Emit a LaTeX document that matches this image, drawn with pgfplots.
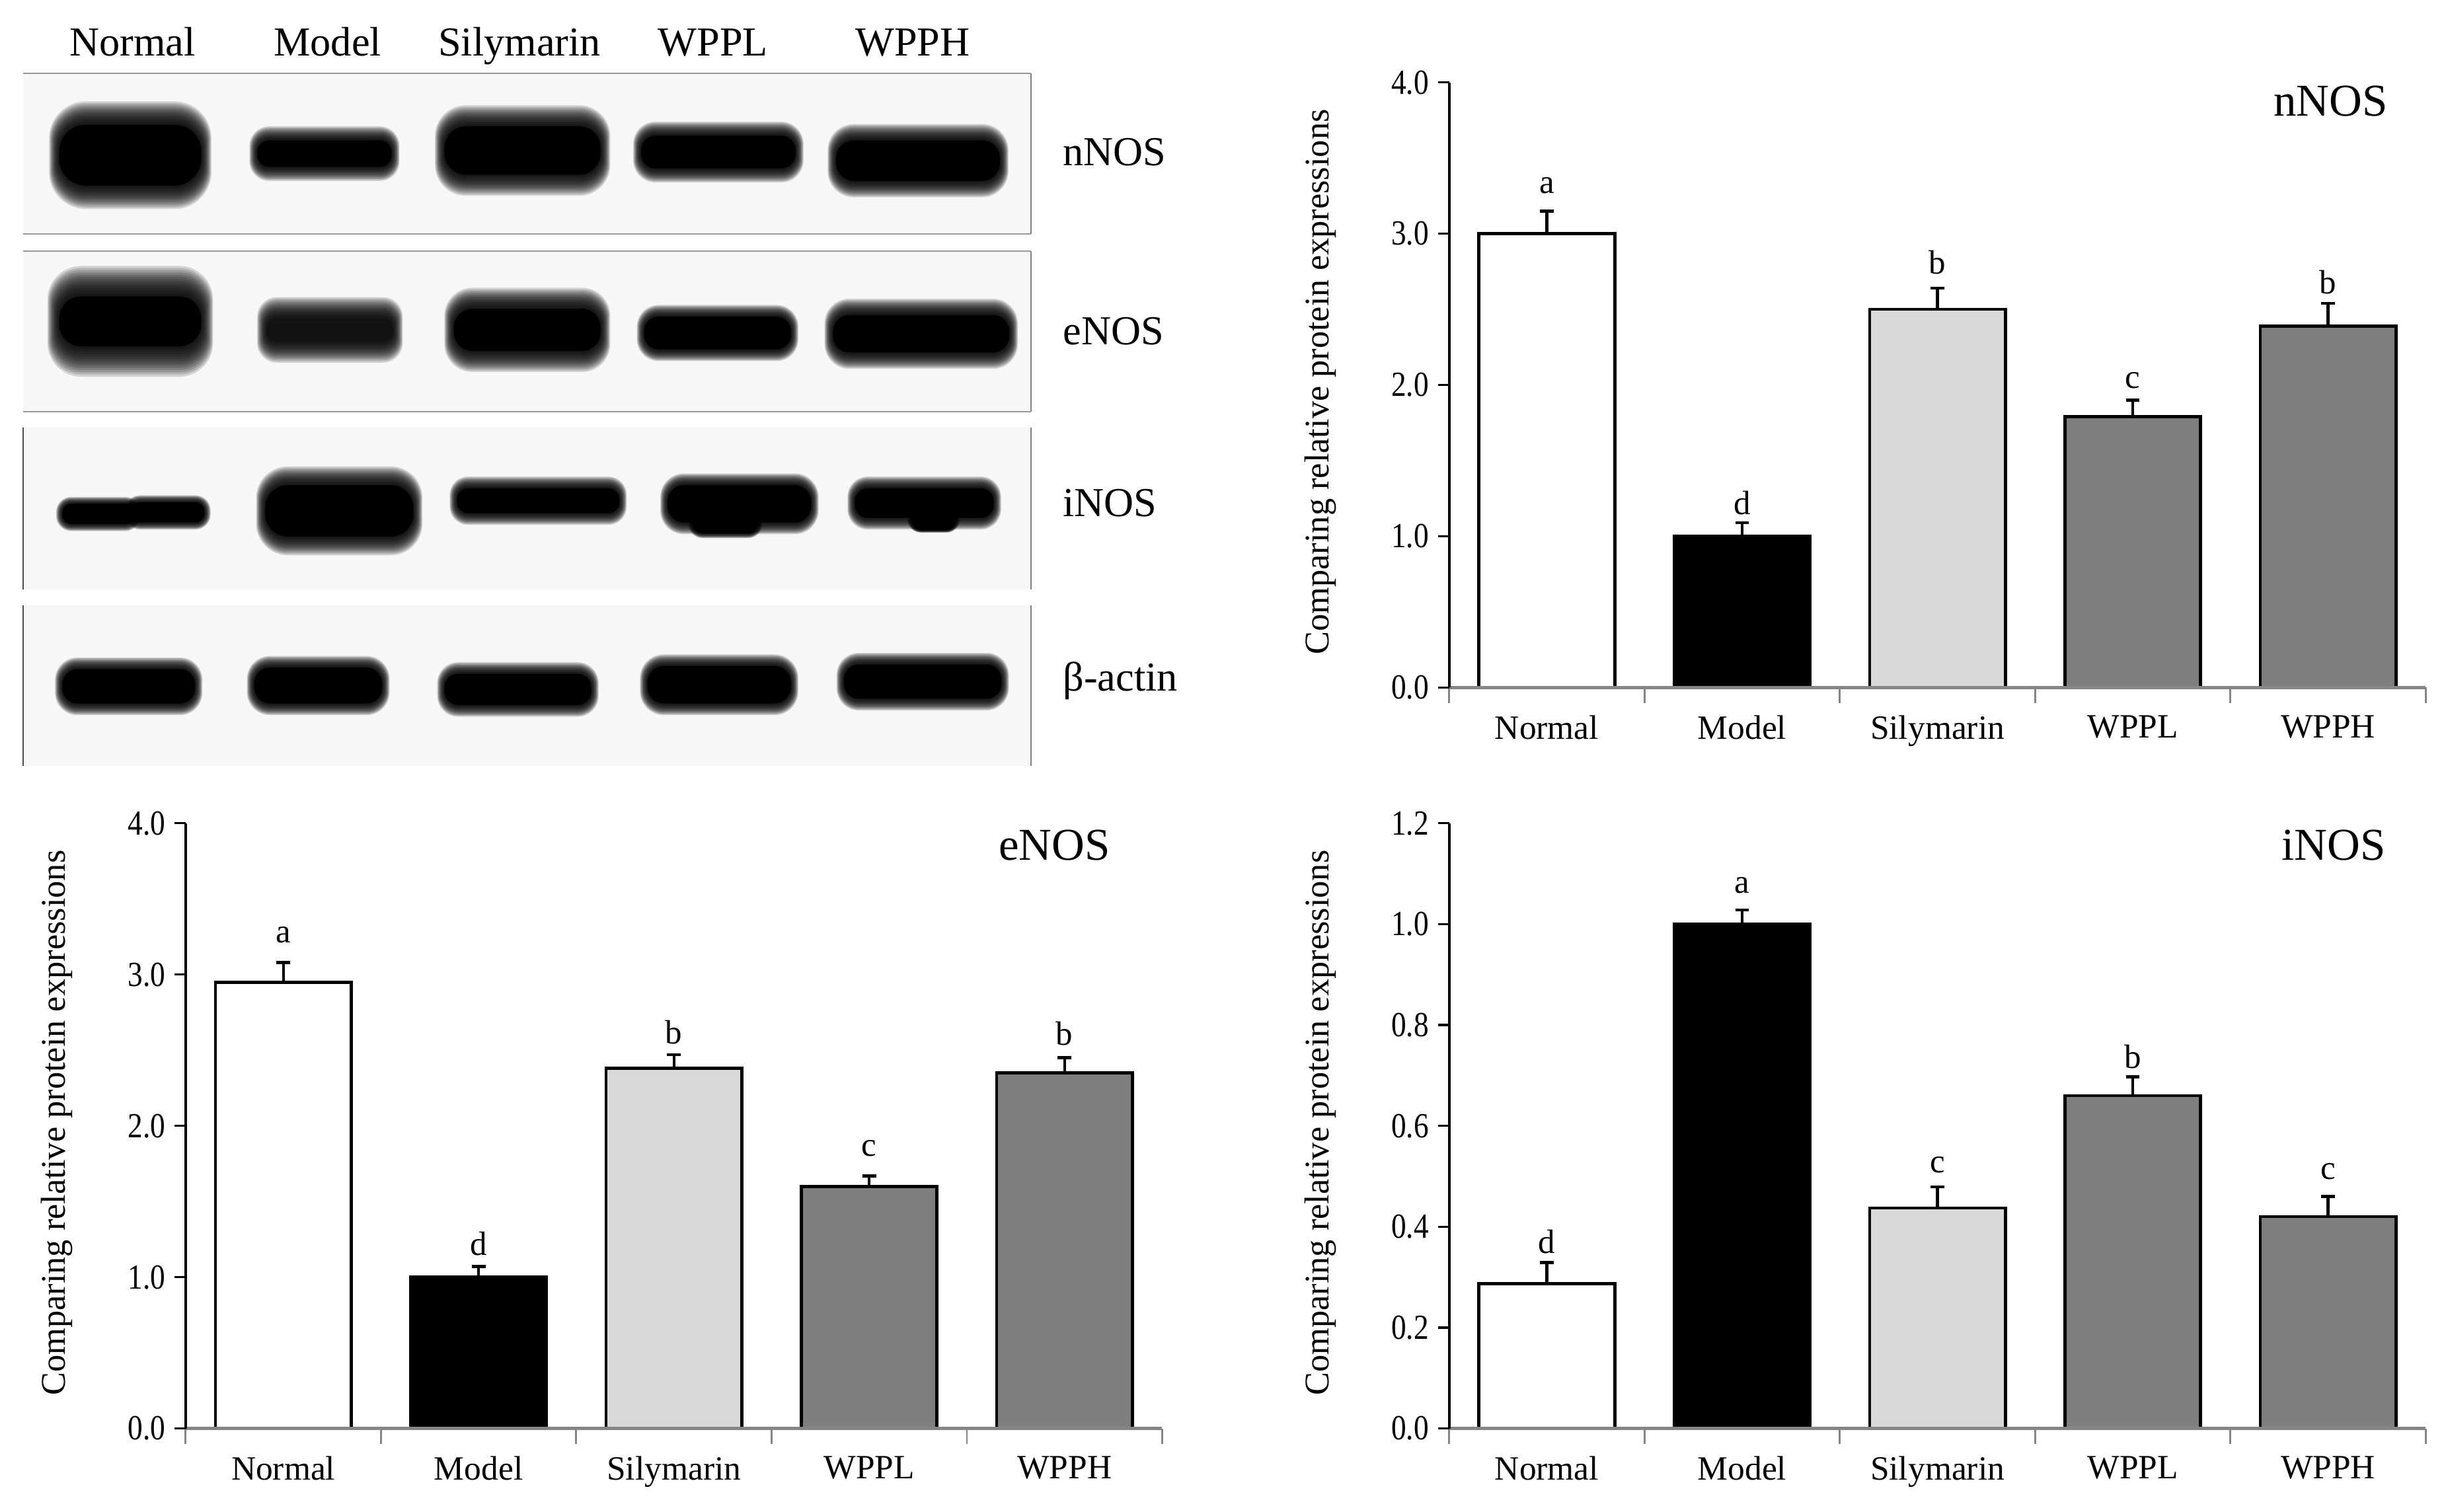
\documentclass[border=0pt]{standalone}
\usepackage{fontspec}
\setmainfont{Liberation Serif}
\newfontfamily\narrowserif[FakeStretch=0.85]{Liberation Serif}
\usepackage{pgfplots}
\pgfplotsset{compat=1.18}

\definecolor{lightbar}{HTML}{D9D9D9}
\definecolor{darkbar}{HTML}{7F7F7F}
\definecolor{axisgray}{HTML}{868686}
\definecolor{blotbg}{HTML}{F7F7F7}

% 1 px of the 1568 wide view is 0.5pt
\pgfplotsset{
  nosbars/.style={
    scale only axis, width=313pt, height=194pt,
    anchor=south west,
    xmin=0, xmax=5,
    axis x line*=bottom, axis y line*=left,
    axis line style={-, line width=0.8pt},
    x axis line style={draw=axisgray, line width=1pt},
    axis on top,
    tick align=outside,
    major tick length=3.5pt, minor tick length=5pt,
    xtick={0.5,1.5,2.5,3.5,4.5},
    xticklabels={Normal,Model,Silymarin,WPPL,WPPH},
    minor xtick={0,1,2,3,4,5},
    x tick style={draw=none},
    minor x tick style={draw=axisgray, line width=0.6pt},
    y tick style={draw=black, line width=0.7pt},
    xticklabel style={font=\fontsize{10.9}{12}\selectfont, yshift=-2pt},
    yticklabel style={font=\narrowserif\fontsize{11.3}{12}\selectfont, xshift=0.5pt,
      /pgf/number format/fixed, /pgf/number format/fixed zerofill,
      /pgf/number format/precision=1, /pgf/number format/assume math mode=true},
    ylabel={Comparing relative protein expressions},
    ylabel style={at={(axis description cs:-0.132,0.505)}, anchor=center,
      font=\fontsize{11.1}{12}\selectfont},
    ymin=0,
    clip=false,
    every axis plot/.append style={
      ybar, bar width=43.5pt, bar shift=0pt, draw=black, line width=1pt,
      error bars/y dir=plus, error bars/y explicit,
      error bars/error bar style={black, line width=0.9pt},
      error bars/error mark options={rotate=90, black, mark size=2.2pt, line width=1pt}},
  },
}
\newcommand{\letter}[3]{\node[font=\fontsize{10.8}{12}\selectfont] at (axis cs:#1,#2) {#3};}
\newcommand{\paneltitle}[3]{\node[font=\fontsize{14.6}{16}\selectfont] at (#1pt,#2pt) {#3};}

% soft blot band, corners in px: x1 y1 x2 y2 halo
\newcommand{\band}[6][black]{%
  \pgfmathsetmacro{\rr}{0.22*(#5-#3)}%
  \foreach \i in {1,...,14}{%
    \pgfmathsetmacro{\dy}{#6*1.5*(15-\i)/14}%
    \pgfmathsetmacro{\dx}{(3+0.35*#6)*(15-\i)/14}%
    \pgfmathsetmacro{\rd}{\rr+0.5*\dx}%
    \fill[black,opacity=0.15,rounded corners=\rd pt]
      ({(#2-\dx)*0.5pt},{-(#3-\dy)*0.5pt}) rectangle ({(#4+\dx)*0.5pt},{-(#5+\dy)*0.5pt});
  }%
  \fill[#1,rounded corners=\rr pt] ({#2*0.5pt},{-#3*0.5pt}) rectangle ({#4*0.5pt},{-#5*0.5pt});
}
% panel: top, bottom, 1 for top and bottom rules or 0 for a left rule
\newcommand{\panel}[3]{%
  \fill[blotbg] ({15*0.5pt},{-#1*0.5pt}) rectangle ({661*0.5pt},{-#2*0.5pt});
  \draw[gray,line width=0.4pt] ({661*0.5pt},{-#1*0.5pt}) -- ({661*0.5pt},{-#2*0.5pt});
  \ifnum#3=1
    \draw[gray!80,line width=0.5pt] ({15*0.5pt},{-#1*0.5pt}) -- ({661*0.5pt},{-#1*0.5pt})
       ({15*0.5pt},{-#2*0.5pt}) -- ({661*0.5pt},{-#2*0.5pt});
  \else
    \draw[black!70,line width=0.4pt] ({15*0.5pt},{-#1*0.5pt}) -- ({15*0.5pt},{-#2*0.5pt});
  \fi
}

\begin{document}
\begin{tikzpicture}
\useasboundingbox (0,0) rectangle (784pt,-484.5pt);

% blot panels
\panel{47}{150}{1}
\panel{161}{264}{1}
\panel{274}{378}{0}
\panel{388}{491}{0}

\band{38}{80}{129}{119}{10}
\band{165}{90}{251}{107}{6}
\band{285}{81}{385}{112}{9}
\band{411}{87}{510}{108}{6}
\band{536}{90}{641}{116}{7}

\band{38}{190}{129}{222}{13}
\band[black!93]{171}{204}{252}{219}{9}
\band{291}{198}{385}{225}{9}
\band{413}{203}{507}{224}{5}
\band{534}{202}{647}{226}{7}

\band{40}{323}{86}{336}{3}
\band{84}{322}{131}{335}{3}
\band{170}{311}{265}{344}{8}
\band{293}{313}{397}{329}{5}
\band{428}{311}{520}{335}{5}
\band{445}{330}{485}{342}{2}
\band{548}{313}{637}{332}{5}
\band{585}{328}{612}{340}{1}

\band{40}{429}{125}{451}{5}
\band{163}{428}{245}{451}{5}
\band{285}{432}{379}{452}{5}
\band{415}{427}{507}{451}{5}
\band{541}{426}{642}{448}{5}

\foreach \n/\x in {Normal/85,Model/210,Silymarin/333,WPPL/457,WPPH/585}
  \node[font=\fontsize{13.2}{15}\selectfont,anchor=base] at ({\x*0.5pt},-18pt) {\n};
\foreach \n/\y in {nNOS/106,eNOS/221,iNOS/331,β-actin/443}
  \node[font=\fontsize{13.2}{15}\selectfont,anchor=base west,inner sep=0pt] at (340.5pt,{-\y*0.5pt}) {\n};

% nNOS
\begin{axis}[nosbars, at={(464.5pt,-220.4pt)}, ymax=4, ytick={0,1,2,3,4}]
\addplot[fill=white] coordinates {(0.5,3.00) +- (0,0.15)};
\addplot[fill=black] coordinates {(1.5,1.00) +- (0,0.09)};
\addplot[fill=lightbar] coordinates {(2.5,2.50) +- (0,0.14)};
\addplot[fill=darkbar] coordinates {(3.5,1.79) +- (0,0.11)};
\addplot[fill=darkbar] coordinates {(4.5,2.39) +- (0,0.15)};
\letter{0.5}{3.32}{a}
\letter{1.5}{1.22}{d}
\letter{2.5}{2.81}{b}
\letter{3.5}{2.03}{c}
\letter{4.5}{2.68}{b}
\end{axis}
\paneltitle{747}{-32.5}{nNOS}

% eNOS
\begin{axis}[nosbars, at={(59.5pt,-457.9pt)}, ymax=4, ytick={0,1,2,3,4}]
\addplot[fill=white] coordinates {(0.5,2.95) +- (0,0.13)};
\addplot[fill=black] coordinates {(1.5,1.00) +- (0,0.07)};
\addplot[fill=lightbar] coordinates {(2.5,2.38) +- (0,0.09)};
\addplot[fill=darkbar] coordinates {(3.5,1.60) +- (0,0.07)};
\addplot[fill=darkbar] coordinates {(4.5,2.35) +- (0,0.10)};
\letter{0.5}{3.26}{a}
\letter{1.5}{1.22}{d}
\letter{2.5}{2.62}{b}
\letter{3.5}{1.85}{c}
\letter{4.5}{2.61}{b}
\end{axis}
\paneltitle{338}{-271}{eNOS}

% iNOS
\begin{axis}[nosbars, at={(464.5pt,-457.9pt)}, ymax=1.2, ytick={0,0.2,0.4,0.6,0.8,1.0,1.2}]
\addplot[fill=white] coordinates {(0.5,0.287) +- (0,0.042)};
\addplot[fill=black] coordinates {(1.5,1.00) +- (0,0.028)};
\addplot[fill=lightbar] coordinates {(2.5,0.437) +- (0,0.042)};
\addplot[fill=darkbar] coordinates {(3.5,0.66) +- (0,0.037)};
\addplot[fill=darkbar] coordinates {(4.5,0.42) +- (0,0.04)};
\letter{0.5}{0.37}{d}
\letter{1.5}{1.077}{a}
\letter{2.5}{0.523}{c}
\letter{3.5}{0.737}{b}
\letter{4.5}{0.51}{c}
\end{axis}
\paneltitle{748}{-271}{iNOS}
\end{tikzpicture}
\end{document}
